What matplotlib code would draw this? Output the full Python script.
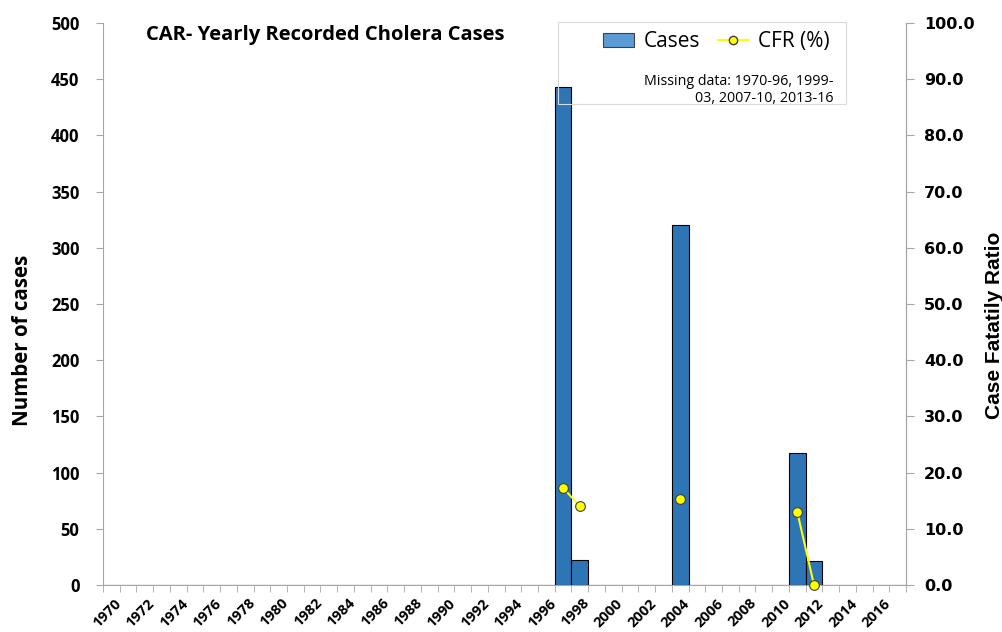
import numpy as np
import matplotlib
matplotlib.use("Agg")
import matplotlib.pyplot as plt
from matplotlib.patches import Rectangle, Patch
from matplotlib.lines import Line2D

plt.rcParams['font.family'] = ['Open Sans', 'DejaVu Sans']

# data
years = list(range(1970, 2018))
case_years = [1997, 1998, 2004, 2011, 2012]
case_vals = [443, 22, 320, 117, 21]
cfr_years = [1997, 1998, 2004, 2011, 2012]
cfr_vals = [17.3, 14.0, 15.3, 13.0, 0.0]

cases = np.zeros(len(years))
cfr = np.full(len(years), np.nan)
for y, v in zip(case_years, case_vals):
    cases[years.index(y)] = v
for y, v in zip(cfr_years, cfr_vals):
    cfr[years.index(y)] = v

x = np.arange(len(years))
grey = '#a6a6a6'

fig = plt.figure(figsize=(10.03, 6.32), dpi=100)
ax = fig.add_axes([0.1027, 0.0744, 0.8006, 0.8892])
ax2 = ax.twinx()

ax.bar(x, cases, width=1.0, color='#2e75b6', edgecolor='black', linewidth=0.8, zorder=2)
ax2.plot(x, cfr, color='#ffff00', linewidth=1.5, marker='o', markersize=7,
         markerfacecolor='#ffff00', markeredgecolor='#404040', markeredgewidth=0.8,
         zorder=3, clip_on=False)

ax.set_xlim(-0.5, len(years) - 0.5)
ax.set_ylim(0, 500)
ax2.set_ylim(0, 100)
ax.set_yticks(np.arange(0, 501, 50))
ax2.set_yticks(np.arange(0, 101, 10))
ax2.set_yticklabels([f"{v:.1f}" for v in np.arange(0, 101, 10)],
                    family='DejaVu Sans', fontweight='bold', fontsize=11.5)
ax.set_yticklabels([str(v) for v in range(0, 501, 50)], fontweight='bold', fontsize=12)

# category axis: ticks between categories, labels every second year
ax.set_xticks(np.arange(-0.5, len(years), 1.0), minor=True)
ax.set_xticks(x[::2] + 0.15)
ax.set_xticklabels([str(y) for y in years[::2]], rotation=45, ha='right',
                   rotation_mode='anchor', fontweight='bold', fontsize=10.5)
ax.tick_params(axis='x', which='major', length=0, pad=8)
ax.tick_params(axis='x', which='minor', length=5, color=grey, direction='out')
ax.tick_params(axis='y', length=5, color=grey, direction='out', pad=12)
ax2.tick_params(axis='y', length=6, color=grey, direction='out', pad=7)

for a in (ax, ax2):
    a.spines['top'].set_visible(False)
    for s in ('left', 'right', 'bottom'):
        a.spines[s].set_color(grey)
ax2.spines['left'].set_visible(False)
ax2.spines['bottom'].set_visible(False)

ax.set_ylabel('Number of cases', fontweight='bold', fontsize=14.8)
ax.yaxis.set_label_coords(-0.087, 0.436)
ax2.set_ylabel('Case Fatatily Ratio', family='Liberation Sans', fontweight='bold',
               fontsize=15)
ax2.yaxis.set_label_coords(1.098, 0.462)

ax.text(0.053, 0.997, 'CAR- Yearly Recorded Cholera Cases', transform=ax.transAxes,
        ha='left', va='top', fontweight='bold', fontsize=14.5)

# legend box (transparent fill, frame only)
ax2.add_patch(Rectangle((0.567, 0.856), 0.358, 0.146, transform=ax.transAxes,
                        facecolor='none', edgecolor='#d9d9d9', linewidth=0.8,
                        zorder=5, clip_on=False))
handles = [Patch(facecolor='#5b9bd5', edgecolor='#404040', linewidth=0.8),
           Line2D([0], [0], color='#ffff00', lw=1.5, marker='o', markersize=6,
                  markerfacecolor='#ffff00', markeredgecolor='#404040')]
leg = ax2.legend(handles, ['Cases', 'CFR (%)'], ncol=2, frameon=False,
                 loc='upper right', bbox_to_anchor=(0.926, 1.015), fontsize=15,
                 handlelength=1.5, handleheight=0.6, handletextpad=0.45,
                 columnspacing=0.85, borderpad=0.3)
leg.set_zorder(6)
ax2.text(0.910, 0.910, 'Missing data: 1970-96, 1999-\n03, 2007-10, 2013-16',
         transform=ax.transAxes, ha='right', va='top', fontsize=10.3,
         multialignment='right', linespacing=1.2, zorder=7)

fig.savefig('out.png', dpi=100)
